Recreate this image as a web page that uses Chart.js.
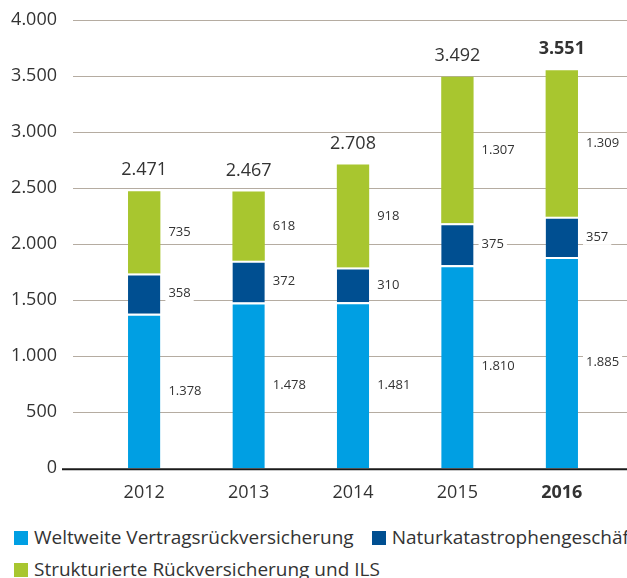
<!DOCTYPE html>
<html>
<head>
<meta charset="utf-8">
<script src="https://cdn.jsdelivr.net/npm/chart.js@4/dist/chart.umd.min.js"></script>
<style>
  body { margin: 0; background: #fff; width: 627px; height: 578px; overflow: hidden; position: relative; font-family: "Open Sans", sans-serif; }
  #wrap { position: absolute; left: 0; top: -26px; width: 627px; height: 540px; }
  #legend { position: absolute; left: 0; top: 524px; width: 627px; height: 54px; overflow: hidden; }
  #legend .inner { width: 760px; }
  #legend .item { display: inline-block; white-space: nowrap; font-size: 19px; color: #333; height: 32px; line-height: 26px; vertical-align: top; }
  #legend .box { display: inline-block; width: 14px; height: 14px; vertical-align: -1px; margin-right: 6px; }
</style>
</head>
<body>
<div id="wrap"><canvas id="chart" width="627" height="540"></canvas></div>
<div id="legend"><div class="inner"></div></div>
<script>
var years = ["2012", "2013", "2014", "2015", "2016"];
var weltweite = [1378, 1478, 1481, 1810, 1885];
var natkat = [358, 372, 310, 375, 357];
var strukturiert = [735, 618, 918, 1307, 1309];
var totals = [2471, 2467, 2708, 3492, 3551];
var seriesNames = ["Weltweite Vertragsrückversicherung", "Naturkatastrophengeschäft", "Strukturierte Rückversicherung und ILS"];
var colors = ["#009fe3", "#004f91", "#a8c62f"];

function fmt(v) {
  return String(v).replace(/\B(?=(\d{3})+(?!\d))/g, ".");
}

var FONT = '"Open Sans", sans-serif';

var extras = {
  id: 'extras',
  beforeDatasetsDraw: function (chart) {
    var c = chart.ctx, y = chart.scales.y;
    c.save();
    y.ticks.forEach(function (t) {
      var py = Math.round(y.getPixelForValue(t.value)) + 0.5;
      if (t.value === 0) return;
      c.strokeStyle = "#b5aca1";
      c.lineWidth = 1;
      c.beginPath();
      c.moveTo(73, py);
      c.lineTo(chart.width, py);
      c.stroke();
    });
    c.restore();
  },
  afterDatasetsDraw: function (chart) {
    var c = chart.ctx, y = chart.scales.y;
    c.save();
    // baseline
    var by = y.getPixelForValue(0);
    c.strokeStyle = "#1a1a1a";
    c.lineWidth = 2;
    c.beginPath();
    c.moveTo(62, by + 1);
    c.lineTo(chart.width, by + 1);
    c.stroke();
    // segment labels
    c.font = '13px ' + FONT;
    c.textBaseline = 'middle';
    c.textAlign = 'left';
    chart.data.datasets.forEach(function (ds, di) {
      var meta = chart.getDatasetMeta(di);
      meta.data.forEach(function (bar, i) {
        var txt = fmt(ds.data[i]);
        var x = bar.x + bar.width / 2 + 8;
        var yy = (bar.y + bar.base) / 2;
        var w = c.measureText(txt).width;
        c.fillStyle = "#fff";
        c.fillRect(x - 3, yy - 8, w + 6, 16);
        c.fillStyle = "#333";
        c.fillText(txt, x, yy);
      });
    });
    // totals
    var top = chart.getDatasetMeta(chart.data.datasets.length - 1);
    c.textAlign = 'center';
    c.textBaseline = 'alphabetic';
    top.data.forEach(function (bar, i) {
      c.font = (i === years.length - 1 ? 'bold ' : '') + '18px ' + FONT;
      c.fillStyle = "#333";
      c.fillText(fmt(totals[i]), bar.x, bar.y - 16);
    });
    c.restore();
  }
};

var sets = [weltweite, natkat, strukturiert].map(function (d, i) {
  return {
    label: seriesNames[i],
    data: d,
    backgroundColor: colors[i],
    borderColor: "#fff",
    borderWidth: i < 2 ? { top: 2, left: 0, right: 0, bottom: 0 } : 0,
    borderSkipped: false,
    categoryPercentage: 1,
    barPercentage: 0.31
  };
});

new Chart(document.getElementById("chart"), {
  type: 'bar',
  data: { labels: years, datasets: sets },
  plugins: [extras],
  options: {
    responsive: false,
    animation: false,
    layout: { padding: { top: 12, right: 13, bottom: 2, left: 0 } },
    plugins: { legend: { display: false }, tooltip: { enabled: false } },
    scales: {
      x: {
        stacked: true,
        grid: { display: false, drawTicks: false },
        border: { display: false },
        afterFit: function (s) { s.height = 36; },
        ticks: {
          padding: 14,
          color: "#333",
          font: function (ctx) {
            return { family: FONT, size: 18, weight: ctx.index === years.length - 1 ? 'bold' : 'normal' };
          }
        }
      },
      y: {
        stacked: true,
        min: 0,
        max: 4000,
        afterFit: function (s) { s.width = 92; },
        grid: { display: false, drawTicks: false },
        border: { display: false },
        ticks: {
          stepSize: 500,
          padding: 35,
          color: "#333",
          font: { family: FONT, size: 18 },
          callback: function (v) { return fmt(v); }
        }
      }
    }
  }
});

var inner = document.querySelector('#legend .inner');
seriesNames.forEach(function (n, i) {
  var it = document.createElement('span');
  it.className = 'item';
  it.style.marginLeft = i === 1 ? '18px' : '14px';
  it.innerHTML = '<span class="box" style="background:' + colors[i] + '"></span>' + n;
  inner.appendChild(it);
});
</script>
</body>
</html>
